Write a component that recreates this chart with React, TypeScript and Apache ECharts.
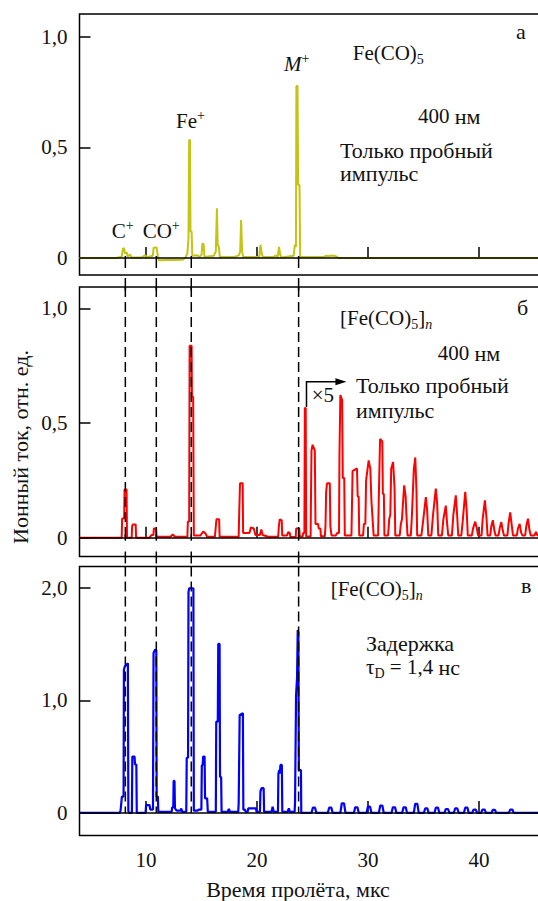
import React, { useEffect, useRef } from "react";
import * as echarts from "echarts";

// Time-of-flight axis (µs)
const X_MIN = 4;
const X_MAX = 46;
const xTicks = [10, 20, 30, 40];
// Ion arrival times marked across the panels: C+, CO+, Fe+, M+
const ionMarkers = [8.13, 10.92, 14.07, 23.74];

const yTicksA = [0, 0.5, 1.0];
const yTicksB = [0, 0.5, 1.0];
const yTicksC = [0, 1.0, 2.0];

// (a) Fe(CO)5, probe pulse only, 400 nm
const probeOnly: [number, number][] = [
  [4, 0], [7.3, 0], [7.8, 0.006], [7.92, 0.045], [8.02, 0.042], [8.1, 0.02], [8.25, 0.026], [8.35, 0.006],
  [8.55, 0.016], [8.7, 0.002], [9.6, 0.002], [9.9, 0.012], [10.1, 0.004], [10.6, 0.01], [10.68, 0.046],
  [10.95, 0.048], [11.05, 0.01], [11.15, -0.01], [13.3, -0.008], [13.55, 0.002], [13.72, 0.022], [13.82, 0.09],
  [13.88, 0.534], [13.95, 0.534], [14.0, 0.12], [14.1, 0.12], [14.16, 0.01], [14.6, 0.012], [14.8, 0.004],
  [15.0, 0.015], [15.07, 0.066], [15.18, 0.062], [15.26, 0.005], [16.1, 0.01], [16.28, 0.03], [16.38, 0.225],
  [16.45, 0.06], [16.56, 0.05], [16.64, 0.004], [17.9, 0.004], [18.35, 0.012], [18.48, 0.03], [18.56, 0.172],
  [18.65, 0.03], [18.75, 0.004], [20.2, 0.004], [20.3, 0.06], [20.42, 0.02], [20.52, 0.004], [21.5, 0.004],
  [21.65, 0.012], [21.85, 0.002], [21.98, 0.05], [22.08, 0.015], [22.2, 0.002], [23.3, 0.01], [23.4, 0.06],
  [23.5, 0.05], [23.54, 0.778], [23.64, 0.778], [23.7, 0.33], [23.82, 0.33], [23.88, 0.004], [26.0, 0.004],
  [26.2, 0.01], [26.45, 0.008], [26.75, 0.011], [27.1, 0.008], [27.35, 0], [46, 0],
];

// (b) [Fe(CO)5]n, probe pulse only, 400 nm (values beyond 24 µs shown ×5)
const clusterProbe: [number, number][] = [
  [4, 0], [7.8, 0], [7.84, 0.084], [8.02, 0.084], [8.06, 0.21], [8.24, 0.21], [8.28, 0],
  [8.7, 0], [8.74, 0.05], [8.8, 0.058], [9.06, 0.058], [9.1, 0],
  [10.3, 0], [10.5, 0.012], [10.66, 0.012], [10.7, 0.04], [10.9, 0.04], [10.94, 0.004],
  [12.2, 0.004], [12.4, 0.014], [12.6, 0.004],
  [13.72, 0.004], [13.76, 0.07], [13.88, 0.07], [13.92, 0.837], [14.1, 0.837], [14.13, 0.615], [14.24, 0.615], [14.3, 0.01],
  [14.9, 0.01], [15.15, 0.027], [15.35, 0.018], [15.5, 0.004],
  [16.2, 0.004], [16.28, 0.05], [16.34, 0.08], [16.58, 0.08], [16.62, 0.004],
  [18.34, 0.004], [18.38, 0.09], [18.44, 0.09], [18.46, 0.237], [18.7, 0.237], [18.74, 0.02],
  [19.3, 0.02], [19.45, 0.045], [19.7, 0.04], [19.85, 0.012], [20.25, 0.012], [20.38, 0.036], [20.5, 0.012],
  [21.0, 0.004], [21.9, 0.004], [21.96, 0.05], [22.04, 0.08], [22.22, 0.075], [22.26, 0.01], [22.7, 0.01],
  [22.8, 0.025], [22.95, 0.02], [23.0, 0.003],
  [23.48, 0.003], [23.52, 0.04], [23.8, 0.04], [23.84, 0.005],
  [24.1, 0.005], [24.15, 0.02], [24.26, 0.02], [24.3, 0.565], [24.38, 0.565], [24.42, 0.005],
  [24.82, 0.005], [24.86, 0.2], [24.9, 0.38], [25.0, 0.405], [25.2, 0.38], [25.26, 0.06], [25.5, 0.06],
  [25.55, 0.04], [25.7, 0.04], [25.75, 0.006],
  [26.1, 0.006], [26.16, 0.05], [26.22, 0.2], [26.3, 0.237], [26.55, 0.237], [26.6, 0.05], [26.7, 0.01],
  [27.1, 0.01], [27.2, 0.02], [27.38, 0.02], [27.42, 0.36], [27.5, 0.622], [27.66, 0.6], [27.72, 0.26],
  [27.85, 0.26], [27.9, 0.01],
  [28.5, 0.01], [28.6, 0.29], [29.0, 0.302], [29.06, 0.18], [29.15, 0.18], [29.2, 0.01],
  [29.55, 0.01], [29.62, 0.06], [29.75, 0.06], [29.82, 0.25], [30.05, 0.337], [30.2, 0.3], [30.3, 0.16], [30.5, 0.01],
  [30.9, 0.01], [31.0, 0.26], [31.08, 0.43], [31.28, 0.42], [31.33, 0.19], [31.42, 0.19], [31.47, 0.01],
  [31.8, 0.01], [31.9, 0.08], [32.0, 0.1], [32.08, 0.3], [32.25, 0.33], [32.38, 0.22], [32.45, 0.01],
  [32.85, 0.01], [32.95, 0.06], [33.05, 0.08], [33.25, 0.228], [33.38, 0.18], [33.45, 0.1], [33.55, 0.01],
  [33.85, 0.01], [33.95, 0.1], [34.12, 0.3], [34.25, 0.35], [34.36, 0.2], [34.42, 0.01],
  [34.8, 0.01], [34.95, 0.07], [35.2, 0.177], [35.32, 0.12], [35.42, 0.01],
  [35.7, 0.01], [35.85, 0.1], [36.1, 0.214], [36.22, 0.15], [36.32, 0.01],
  [36.65, 0.01], [36.78, 0.08], [37.0, 0.14], [37.12, 0.06], [37.22, 0.01],
  [37.55, 0.01], [37.68, 0.1], [37.9, 0.185], [38.02, 0.1], [38.12, 0.01],
  [38.4, 0.01], [38.52, 0.07], [38.75, 0.2], [38.88, 0.12], [38.98, 0.01],
  [39.35, 0.01], [39.45, 0.04], [39.65, 0.07], [39.8, 0.04], [39.9, 0.01],
  [40.22, 0.01], [40.32, 0.08], [40.52, 0.163], [40.66, 0.09], [40.76, 0.01],
  [41.0, 0.01], [41.1, 0.05], [41.24, 0.076], [41.38, 0.03], [41.48, 0.01],
  [41.75, 0.01], [41.85, 0.04], [42.0, 0.068], [42.14, 0.03], [42.24, 0.01],
  [42.55, 0.01], [42.65, 0.06], [42.8, 0.11], [42.95, 0.05], [43.05, 0.01],
  [43.4, 0.01], [43.5, 0.04], [43.65, 0.06], [43.8, 0.02], [43.9, 0.01],
  [44.15, 0.01], [44.25, 0.05], [44.4, 0.083], [44.55, 0.03], [44.65, 0.01],
  [45.0, 0.01], [45.12, 0.025], [45.25, 0.01], [46, 0.01],
];

// (c) [Fe(CO)5]n, pump-probe delay τD = 1.4 ns
const clusterDelay: [number, number][] = [
  [4, 0], [7.62, 0], [7.7, 0.02], [7.82, 0.145], [7.97, 0.145], [8.0, 1.27], [8.08, 1.3], [8.36, 1.328], [8.4, 0.02], [8.45, 0],
  [8.72, 0], [8.76, 0.5], [8.96, 0.5], [9.0, 0.43], [9.12, 0.43], [9.16, 0],
  [9.95, 0], [10.0, 0.07], [10.3, 0.07], [10.38, 0.03], [10.62, 0.03], [10.67, 1.42], [10.8, 1.447], [10.92, 1.447],
  [10.95, 0.145], [11.06, 0.145], [11.1, 0.01],
  [12.3, 0.01], [12.35, 0.05], [12.45, 0.05], [12.48, 0.284], [12.56, 0.284], [12.6, 0.04], [12.75, 0.02],
  [13.1, 0.02], [13.17, 0.04], [13.25, 0.01],
  [13.62, 0.01], [13.66, 0.49], [13.78, 0.49], [13.82, 1.96], [13.88, 1.994], [14.26, 1.994], [14.3, 0.02],
  [14.65, 0.02], [14.72, 0.03], [14.98, 0.03], [15.02, 0.42], [15.1, 0.43], [15.14, 0.5], [15.27, 0.5],
  [15.31, 0.13], [15.5, 0.13], [15.56, 0.01],
  [16.28, 0.01], [16.32, 0.81], [16.46, 0.81], [16.5, 1.5], [16.62, 1.5], [16.66, 0.32], [16.76, 0.32], [16.8, 0.01],
  [17.35, 0.01], [17.46, 0.035], [17.56, 0.01],
  [18.3, 0.01], [18.34, 0.086], [18.4, 0.086], [18.43, 0.87], [18.72, 0.885], [18.76, 0.03], [18.9, 0.03], [18.98, 0.01],
  [19.15, 0.01], [19.2, 0.04], [19.9, 0.04], [19.95, 0.01],
  [20.26, 0.01], [20.3, 0.19], [20.4, 0.22], [20.59, 0.22], [20.63, 0.01],
  [21.3, 0.01], [21.4, 0.056], [21.5, 0.01],
  [21.88, 0.01], [21.92, 0.35], [22.0, 0.38], [22.05, 0.35], [22.1, 0.426], [22.23, 0.426], [22.27, 0.01],
  [22.75, 0.01], [22.86, 0.04], [22.96, 0.01],
  [23.38, 0.01], [23.42, 0.1], [23.48, 0.1], [23.51, 1.047], [23.6, 1.2], [23.66, 1.624], [23.72, 1.6],
  [23.76, 0.38], [23.95, 0.38], [23.98, 0],
  [24.9, 0], [25.02, 0.047], [25.22, 0.047], [25.34, 0],
  [26.37, 0], [26.49, 0.047], [26.69, 0.047], [26.81, 0],
  [27.5, 0], [27.63, 0.086], [27.83, 0.086], [27.96, 0],
  [28.72, 0], [28.84, 0.05], [29.04, 0.05], [29.16, 0],
  [29.86, 0], [29.98, 0.056], [30.18, 0.056], [30.3, 0],
  [30.97, 0], [31.09, 0.065], [31.29, 0.065], [31.41, 0],
  [32.11, 0], [32.23, 0.05], [32.43, 0.05], [32.55, 0],
  [33.07, 0], [33.19, 0.05], [33.39, 0.05], [33.51, 0],
  [34.12, 0], [34.24, 0.08], [34.44, 0.08], [34.56, 0],
  [35.02, 0], [35.14, 0.04], [35.34, 0.04], [35.46, 0],
  [35.98, 0], [36.1, 0.047], [36.3, 0.047], [36.42, 0],
  [36.88, 0], [37.0, 0.035], [37.2, 0.035], [37.32, 0],
  [37.72, 0], [37.84, 0.04], [38.04, 0.04], [38.16, 0],
  [38.63, 0], [38.75, 0.047], [38.95, 0.047], [39.07, 0],
  [39.38, 0], [39.5, 0.03], [39.7, 0.03], [39.82, 0],
  [40.18, 0], [40.3, 0.03], [40.5, 0.03], [40.62, 0],
  [41.11, 0], [41.23, 0.027], [41.43, 0.027], [41.55, 0],
  [42.68, 0], [42.8, 0.03], [43.0, 0.03], [43.12, 0], [46, 0],
];

const SERIF = "'Liberation Serif', 'Times New Roman', serif";
const FONT = `21px ${SERIF}`;
const FONT_WORD = `22px ${SERIF}`;
const FONT_IT = `italic 21px ${SERIF}`;
const FONT_SMALL = `14px ${SERIF}`;
const FONT_SMALL_IT = `italic 14px ${SERIF}`;
const INK = "#111";

const GRID_LEFT = 79.5;
const GRID_WIDTH = 466.2;
const grids = [
  { top: 14, height: 261, yMin: -0.077, yMax: 1.104 },
  { top: 287, height: 269.5, yMin: -0.082, yMax: 1.093 },
  { top: 566.5, height: 269, yMin: -0.2, yMax: 2.187 },
];
const yTickSets = [yTicksA, yTicksB, yTicksC];
const traces = [probeOnly, clusterProbe, clusterDelay];
const traceColors = ["#c4c414", "#ff0000", "#0000ff"];
const traceNames = ["Fe(CO)5", "[Fe(CO)5]n", "[Fe(CO)5]n, τD = 1,4 нс"];

const fmtTick = (v: number) => (v === 0 ? "0" : v.toFixed(1).replace(".", ","));

const rich = {
  r: { font: FONT, fontFamily: SERIF, fontSize: 21, lineHeight: 26, verticalAlign: "middle", fill: INK },
  w: { font: FONT_WORD, fontFamily: SERIF, fontSize: 22, lineHeight: 26, verticalAlign: "middle", fill: INK },
  it: { font: FONT_IT, fontFamily: SERIF, fontSize: 21, fontStyle: "italic", lineHeight: 26, verticalAlign: "middle", fill: INK },
  sub: { font: FONT_SMALL, fontFamily: SERIF, fontSize: 14, lineHeight: 14, verticalAlign: "bottom", fill: INK },
  subi: { font: FONT_SMALL_IT, fontFamily: SERIF, fontSize: 14, fontStyle: "italic", lineHeight: 14, verticalAlign: "bottom", fill: INK },
  sup: { font: FONT_SMALL, fontFamily: SERIF, fontSize: 14, lineHeight: 16, verticalAlign: "top", fill: INK },
};

function label(x: number, y: number, text: string) {
  return {
    type: "text",
    x,
    y,
    z: 50,
    style: {
      text,
      rich,
      fill: INK,
      align: "left",
      verticalAlign: "middle",
      font: FONT,
    },
  };
}

export default function App() {
  const ref = useRef<HTMLDivElement>(null);

  useEffect(() => {
    if (!ref.current) return;
    const chart = echarts.init(ref.current, null, { renderer: "svg" });

    const option: any = {
      animation: false,
      backgroundColor: "#fff",
      grid: grids.map((g) => ({
        left: GRID_LEFT,
        width: GRID_WIDTH,
        top: g.top,
        height: g.height,
        show: true,
        borderColor: "#000",
        borderWidth: 1.5,
        backgroundColor: "transparent",
        containLabel: false,
        outerBoundsMode: "none",
      })),
      xAxis: grids.map((_, i) => ({
        type: "value",
        gridIndex: i,
        min: X_MIN,
        max: X_MAX,
        axisLine: { show: false },
        splitLine: { show: false },
        axisTick: {
          show: true,
          inside: true,
          length: i === 2 ? 12 : 11,
          customValues: xTicks,
          lineStyle: { color: "#000", width: 1.5 },
        },
        axisLabel: {
          show: i === 2,
          customValues: xTicks,
          fontFamily: SERIF,
          fontSize: 21,
          color: INK,
          margin: 14,
        },
      })),
      yAxis: grids.map((g, i) => ({
        type: "value",
        gridIndex: i,
        min: g.yMin,
        max: g.yMax,
        axisLine: { show: false },
        splitLine: { show: false },
        axisTick: {
          show: true,
          inside: true,
          length: 11,
          customValues: yTickSets[i],
          lineStyle: { color: "#000", width: 1.5 },
        },
        axisLabel: {
          customValues: yTickSets[i],
          formatter: fmtTick,
          fontFamily: SERIF,
          fontSize: 21,
          color: INK,
          margin: 12,
        },
      })),
      series: [
        // zero baselines
        ...grids.map((_, i) => ({
          type: "line",
          xAxisIndex: i,
          yAxisIndex: i,
          data: [],
          z: 1,
          silent: true,
          markLine: {
            silent: true,
            symbol: ["none", "none"],
            label: { show: false },
            lineStyle: { color: "#000", width: 1.5, type: "solid" },
            data: [{ yAxis: 0 }],
          },
        })),
        ...traces.map((d, i) => ({
          name: traceNames[i],
          type: "line",
          xAxisIndex: i,
          yAxisIndex: i,
          data: d,
          showSymbol: false,
          symbol: "none",
          z: 3,
          lineStyle: { color: traceColors[i], width: i === 2 ? 2.2 : 2 },
          itemStyle: { color: traceColors[i] },
        })),
      ],
    };
    chart.setOption(option);

    // Marker lines for the ion arrival times and the "×5" arrow, placed through the axes
    const px = (v: number) => chart.convertToPixel({ xAxisIndex: 0 }, v) as number;
    const py = (i: number, v: number) => chart.convertToPixel({ yAxisIndex: i }, v) as number;
    const zeroA = py(0, 0);
    const zeroB = py(1, 0);
    const zeroC = py(2, 0);
    const bottomA = py(0, grids[0].yMin);
    const topB = py(1, grids[1].yMax);
    const bottomB = py(1, grids[1].yMin);
    const topC = py(2, grids[2].yMax);

    const solid = { stroke: "#000", lineWidth: 1.5 };
    const dashed = { stroke: "#000", lineWidth: 1.5, lineDash: [10, 5] };
    const seg = (x: number, y1: number, y2: number, style: any) => ({
      type: "line",
      z: 20,
      silent: true,
      shape: { x1: x, y1, x2: x, y2 },
      style,
    });

    const markerGraphics: any[] = [];
    ionMarkers.forEach((m) => {
      const x = px(m);
      markerGraphics.push(seg(x, zeroA - 2, zeroA + 10, solid));
      markerGraphics.push(seg(x, bottomA + 3, topB + 3.5, solid));
      markerGraphics.push(seg(x, topB, zeroB, dashed));
      markerGraphics.push(seg(x, zeroB - 3, zeroB + 3, solid));
      markerGraphics.push(seg(x, bottomB - 5, bottomB + 7, solid));
      markerGraphics.push(seg(x, topC, zeroC, dashed));
    });

    // ×5 arrow starting from the first cluster spike
    const ax = px(24.45);
    const ay0 = py(1, 0.57);
    const ay1 = py(1, 0.68);
    const tipX = px(28.05);
    markerGraphics.push({
      type: "polyline",
      z: 20,
      silent: true,
      shape: { points: [[ax, ay0], [ax, ay1], [tipX - 8, ay1]] },
      style: { stroke: "#000", lineWidth: 1.5, fill: null },
    });
    markerGraphics.push({
      type: "polygon",
      z: 20,
      silent: true,
      shape: { points: [[tipX - 11, ay1 - 3.5], [tipX, ay1], [tipX - 11, ay1 + 3.5]] },
      style: { fill: "#000" },
    });

    const texts: any[] = [
      // panel a
      label(516, 31, "{w|а}"),
      label(352.7, 53, "{r|Fe(CO)}{sub|5}"),
      label(284, 64, "{it|M}{sup|+}"),
      label(418, 116, "{r|400 }{w|нм}"),
      label(340, 150, "{w|Только пробный}"),
      label(340, 173, "{w|импульс}"),
      label(176, 121, "{r|Fe}{sup|+}"),
      label(111.7, 231, "{r|C}{sup|+}"),
      label(142.7, 231, "{r|CO}{sup|+}"),
      // panel b
      label(517, 307, "{w|б}"),
      label(340, 318, "{r|[Fe(CO)}{sub|5}{r|]}{subi|n}"),
      label(437.7, 353, "{r|400 }{w|нм}"),
      label(311.7, 395, "{r|×5}"),
      label(356, 385, "{w|Только пробный}"),
      label(356, 410, "{w|импульс}"),
      // panel c
      label(521, 585, "{w|в}"),
      label(330.7, 589, "{r|[Fe(CO)}{sub|5}{r|]}{subi|n}"),
      label(366, 643, "{w|Задержка}"),
      label(366, 667, "{r|τ}{sub|D}{r| = 1,4 }{w|нс}"),
      // axis titles
      {
        type: "text",
        x: 20,
        y: 447,
        rotation: Math.PI / 2,
        z: 50,
        style: {
          text: "Ионный ток, отн. ед.",
          fill: INK,
          font: FONT_WORD,
          align: "center",
          verticalAlign: "middle",
        },
      },
      {
        type: "text",
        x: 298,
        y: 889,
        z: 50,
        style: {
          text: "Время пролёта, мкс",
          fill: INK,
          font: FONT_WORD,
          align: "center",
          verticalAlign: "middle",
        },
      },
    ];

    chart.setOption({ graphic: [...markerGraphics, ...texts] });

    return () => chart.dispose();
  }, []);

  return (
    <div
      ref={ref}
      style={{ position: "absolute", left: 0, top: 0, width: 538, height: 901, background: "#fff" }}
    />
  );
}
